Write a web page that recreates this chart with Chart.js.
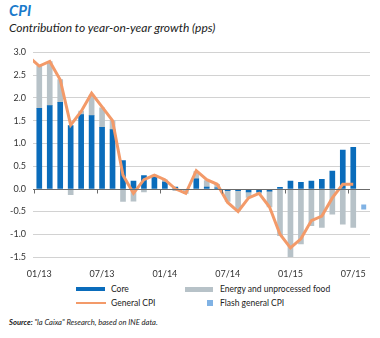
<!DOCTYPE html>
<html>
<head>
<meta charset="utf-8">
<script src="https://cdn.jsdelivr.net/npm/chart.js@4.4.1/dist/chart.umd.min.js"></script>
<style>
  html, body { margin: 0; padding: 0; background: #fff; }
  body { width: 380px; height: 338px; position: relative; overflow: hidden; font-family: Lato, 'Open Sans', sans-serif; color: #222; }
  .title { position: absolute; left: 9px; top: 1px; font-size: 15px; font-weight: bold; font-style: italic; color: #1a7acb; }
  .subtitle { position: absolute; left: 9px; top: 20px; font-size: 12px; font-style: italic; color: #222; }
  .chart-box { position: absolute; left: 0; top: 40px; width: 380px; height: 240px; }
  .legend { position: absolute; left: 0; top: 281px; width: 380px; height: 30px; font-size: 8.5px; color: #222; }
  .legend .item { position: absolute; height: 12px; line-height: 12px; }
  .legend .sw { position: absolute; top: 50%; }
  .legend .txt { position: absolute; white-space: nowrap; }
  .source { position: absolute; left: 9px; top: 317px; font-size: 7.6px; font-style: italic; color: #222; }
</style>
</head>
<body>
<div class="title">CPI</div>
<div class="subtitle">Contribution to year-on-year growth (pps)</div>
<div class="chart-box"><canvas id="cpiChart" width="380" height="240"></canvas></div>
<div class="legend" id="legend"></div>
<div class="source"><b>Source:</b> "la Caixa" Research, based on INE data.</div>

<script>
// monthly series, 12/12 to 08/15
const months = [
  '12/12',
  '01/13', '02/13', '03/13', '04/13', '05/13', '06/13', '07/13', '08/13', '09/13', '10/13', '11/13', '12/13',
  '01/14', '02/14', '03/14', '04/14', '05/14', '06/14', '07/14', '08/14', '09/14', '10/14', '11/14', '12/14',
  '01/15', '02/15', '03/15', '04/15', '05/15', '06/15', '07/15', '08/15'
];
const tickLabels = ['01/13', '07/13', '01/14', '07/14', '01/15', '07/15'];

const core = [
  null,
  1.77, 1.83, 1.90, 1.39, 1.63, 1.61, 1.35, 1.30, 0.62, 0.17, 0.29, 0.25,
  0.15, 0.04, -0.02, 0.22, 0.04, 0.02, -0.04, -0.04, -0.07, -0.07, -0.05, 0.03,
  0.17, 0.14, 0.17, 0.21, 0.39, 0.85, 0.91, null
];
const energyFood = [
  null,
  0.93, 0.97, 0.50, -0.13, 0.08, 0.45, 0.43, 0.20, -0.28, -0.27, -0.07, 0.05,
  0.05, -0.04, -0.08, 0.16, 0.14, 0.08, -0.24, -0.43, -0.12, -0.03, -0.35, -1.03,
  -1.50, -1.21, -0.81, -0.85, -0.56, -0.78, -0.85, null
];
const generalCpi = [
  2.9,
  2.7, 2.8, 2.4, 1.4, 1.7, 2.1, 1.8, 1.5, 0.3, -0.1, 0.2, 0.3,
  0.2, 0.0, -0.1, 0.4, 0.2, 0.1, -0.3, -0.5, -0.2, -0.1, -0.4, -1.0,
  -1.3, -1.1, -0.7, -0.6, -0.2, 0.1, 0.1, null
];
const flashCpi = [
  null,
  null, null, null, null, null, null, null, null, null, null, null, null,
  null, null, null, null, null, null, null, null, null, null, null, null,
  null, null, null, null, null, null, null, -0.4
];

const COLORS = {
  core: '#0a6cbb',
  energy: '#b7c2c8',
  cpi: '#f39a69',
  flash: '#80b2e4',
  grid: '#d2d2d2',
  zero: '#6b6b6b',
  text: '#333'
};

const toPoints = arr => arr.map((v, i) => ({ x: i, y: v }));

// zero line with small tick marks every six months, drawn over the bars
const zeroLinePlugin = {
  id: 'zeroLine',
  afterDatasetsDraw(chart) {
    const { ctx, chartArea, scales } = chart;
    const y0 = Math.round(scales.y.getPixelForValue(0)) + 0.5;
    ctx.save();
    ctx.strokeStyle = COLORS.zero;
    ctx.lineWidth = 1;
    ctx.beginPath();
    ctx.moveTo(chartArea.left, y0);
    ctx.lineTo(chartArea.right, y0);
    tickLabels.forEach(lbl => {
      const x = Math.round(scales.x.getPixelForValue(months.indexOf(lbl) - 0.5)) + 0.5;
      ctx.moveTo(x, y0);
      ctx.lineTo(x, y0 + 4);
    });
    ctx.stroke();
    ctx.restore();
  }
};

const chart = new Chart(document.getElementById('cpiChart'), {
  data: {
    datasets: [
      {
        type: 'line',
        label: 'General CPI',
        data: toPoints(generalCpi),
        borderColor: COLORS.cpi,
        backgroundColor: COLORS.cpi,
        borderWidth: 3,
        pointRadius: 0,
        tension: 0,
        stack: 'cpi',
        order: 0
      },
      {
        type: 'line',
        label: 'Flash general CPI',
        data: toPoints(flashCpi),
        showLine: false,
        pointStyle: 'rect',
        pointRadius: 3.5,
        borderWidth: 0,
        backgroundColor: COLORS.flash,
        borderColor: COLORS.flash,
        stack: 'flash',
        order: 1
      },
      {
        type: 'bar',
        label: 'Core',
        data: toPoints(core),
        backgroundColor: COLORS.core,
        barThickness: 5,
        stack: 'bars',
        order: 2
      },
      {
        type: 'bar',
        label: 'Energy and unprocessed food',
        data: toPoints(energyFood),
        backgroundColor: COLORS.energy,
        barThickness: 5,
        stack: 'bars',
        order: 3
      }
    ]
  },
  options: {
    responsive: false,
    animation: false,
    events: [],
    layout: { padding: { top: 12, right: 10, bottom: 2, left: 0 } },
    plugins: {
      legend: { display: false },
      tooltip: { enabled: false }
    },
    scales: {
      x: {
        type: 'linear',
        stacked: true,
        offset: false,
        bounds: 'ticks',
        min: 0.4,
        max: 32.6,
        grid: { display: false },
        border: { display: false },
        afterBuildTicks: scale => {
          scale.ticks = tickLabels.map(l => ({ value: months.indexOf(l) }));
        },
        afterFit: scale => { scale.height = 21; },
        ticks: {
          autoSkip: false,
          maxRotation: 0,
          padding: 4,
          color: COLORS.text,
          font: { family: 'Lato', size: 9 },
          callback: v => months[v]
        }
      },
      y: {
        stacked: true,
        min: -1.5,
        max: 3,
        grid: {
          drawTicks: false,
          color: ctx => ctx.tick && ctx.tick.value === 0 ? 'rgba(0,0,0,0)' : COLORS.grid,
          lineWidth: 1
        },
        border: { display: false },
        afterFit: scale => { scale.width = 33; },
        ticks: {
          stepSize: 0.5,
          padding: 7,
          color: COLORS.text,
          font: { family: 'Lato', size: 9 },
          callback: v => v.toFixed(1)
        }
      }
    }
  },
  plugins: [zeroLinePlugin]
});

// legend, two rows of two entries, built from the datasets
const legendSlots = [
  { label: 'Core', left: 76, top: 2, sw: { w: 29, h: 4 } },
  { label: 'Energy and unprocessed food', left: 185, top: 2, sw: { w: 28, h: 5 } },
  { label: 'General CPI', left: 76, top: 16, sw: { w: 30, h: 2.5 } },
  { label: 'Flash general CPI', left: 207, top: 16, sw: { w: 6, h: 6 } }
];
const legendEl = document.getElementById('legend');
legendSlots.forEach(slot => {
  const ds = chart.data.datasets.find(d => d.label === slot.label);
  const item = document.createElement('div');
  item.className = 'item';
  item.style.left = slot.left + 'px';
  item.style.top = slot.top + 'px';
  const sw = document.createElement('span');
  sw.className = 'sw';
  sw.style.left = '0px';
  sw.style.width = slot.sw.w + 'px';
  sw.style.height = slot.sw.h + 'px';
  sw.style.marginTop = (-slot.sw.h / 2) + 'px';
  sw.style.background = ds.backgroundColor;
  const txt = document.createElement('span');
  txt.className = 'txt';
  txt.style.left = (slot.left < 150 ? 35 : 220 - slot.left) + 'px';
  txt.textContent = slot.label;
  item.appendChild(sw);
  item.appendChild(txt);
  legendEl.appendChild(item);
});
</script>
</body>
</html>
